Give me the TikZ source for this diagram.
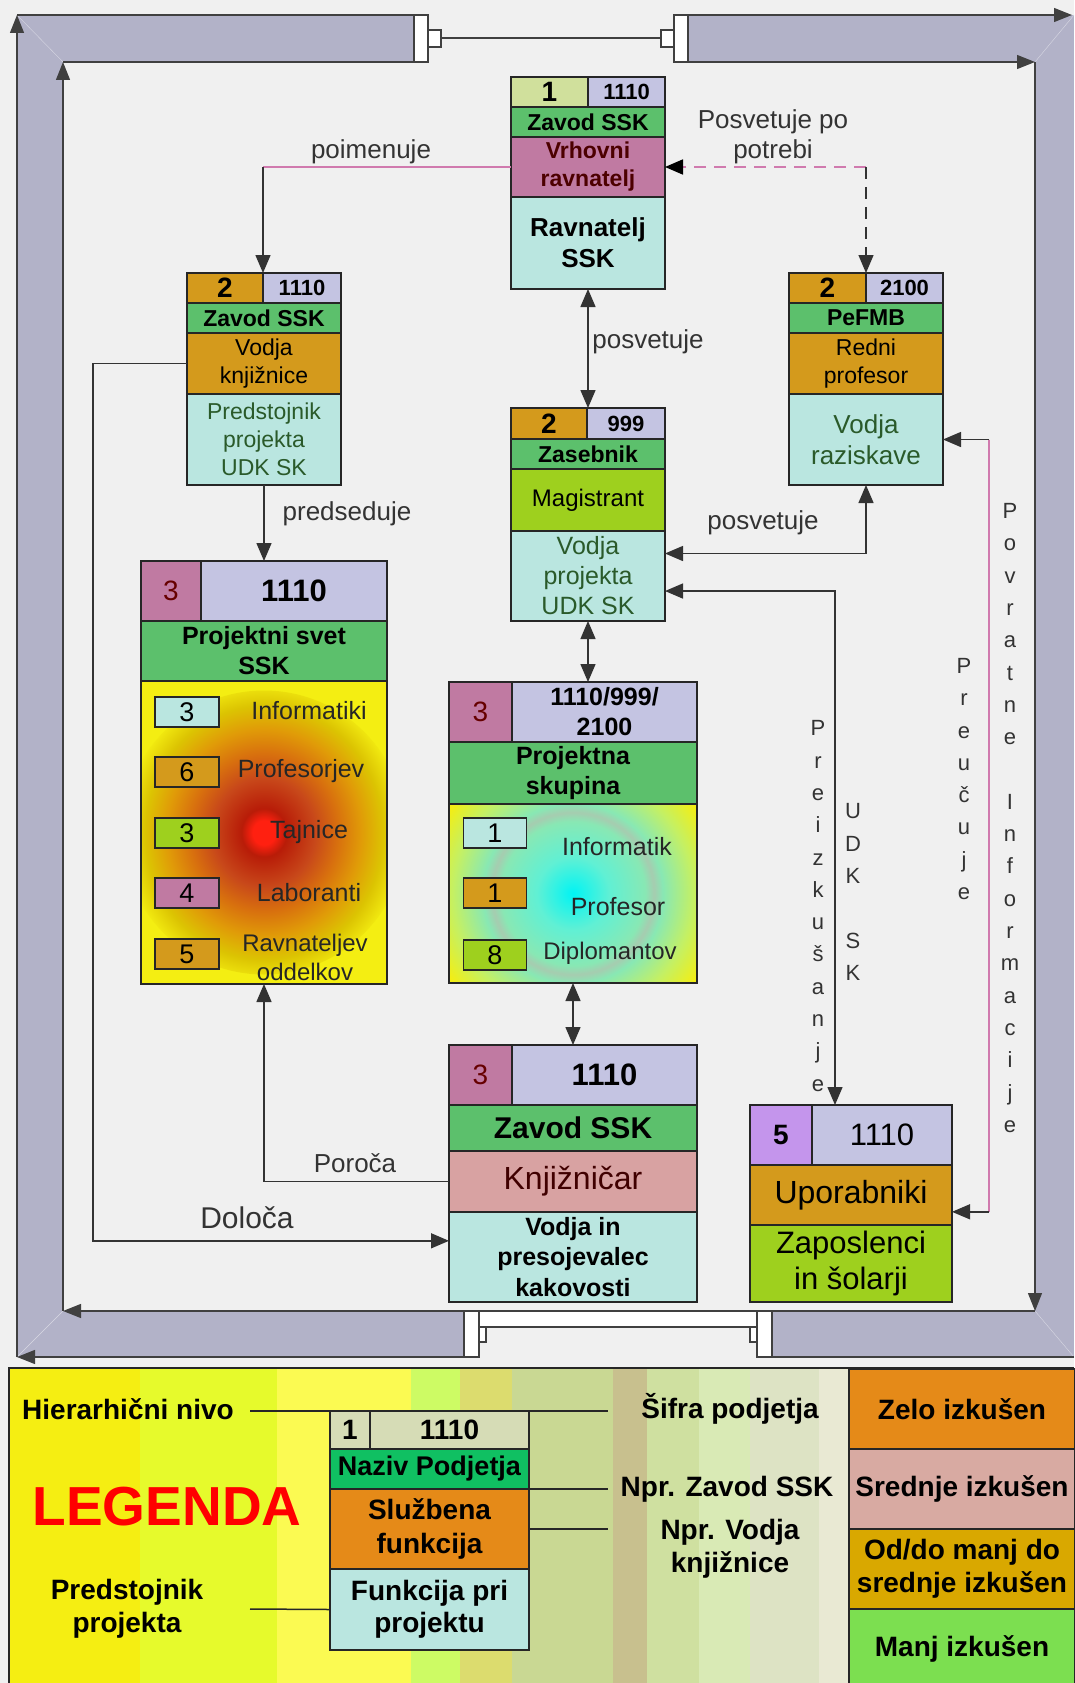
\documentclass[tikz,border=0pt]{standalone}
\usepackage{fontspec}
\setmainfont{Liberation Sans}
\usepackage{tikz}
\usetikzlibrary{arrows.meta,positioning,calc}
\newcommand{\fsz}[2]{\fontsize{#1}{#2}\selectfont}
\definecolor{bgray}{HTML}{F0F0F0}
\definecolor{band}{HTML}{B2B2C8}
\definecolor{lvlone}{HTML}{D0E09C}
\definecolor{lvltwo}{HTML}{D49A1C}
\definecolor{mauve}{HTML}{C07AA2}
\definecolor{lilac}{HTML}{C495EC}
\definecolor{codec}{HTML}{C4C4E2}
\definecolor{ttl}{HTML}{5CC06C}
\definecolor{lblue}{HTML}{BAE6E0}
\definecolor{lime}{HTML}{9ED01E}
\definecolor{rose}{HTML}{D8A2A2}
\definecolor{boxyel}{HTML}{F4EE12}
\definecolor{pinkln}{HTML}{D07AAE}
\definecolor{dkgreen}{HTML}{2A5A2A}
\definecolor{hotA}{HTML}{FF2010}
\definecolor{hotB}{HTML}{B81C08}
\definecolor{hotC}{HTML}{C8481A}
\definecolor{hotD}{HTML}{D8700E}
\definecolor{hotE}{HTML}{E09A08}
\definecolor{hotF}{HTML}{DCC402}
\definecolor{coldA}{HTML}{00F4F4}
\definecolor{coldB}{HTML}{60F0D4}
\definecolor{coldC}{HTML}{88E8B4}
\definecolor{coldD}{HTML}{A6CCB0}
\definecolor{coldE}{HTML}{C4F064}
\definecolor{legtop}{HTML}{D6DCB6}
\definecolor{legnaz}{HTML}{10C062}
\definecolor{legorg}{HTML}{E58A18}
\definecolor{legsred}{HTML}{D8AAA2}
\definecolor{legodo}{HTML}{D9A800}
\definecolor{legmanj}{HTML}{7CDF50}
\definecolor{stA}{HTML}{F5EE12}
\definecolor{stB}{HTML}{E6FA2C}
\definecolor{stC}{HTML}{FBFA52}
\definecolor{stD}{HTML}{CDFB64}
\definecolor{stE}{HTML}{DCDC6E}
\definecolor{stF}{HTML}{C9D893}
\definecolor{stG}{HTML}{C8C08E}
\definecolor{stH}{HTML}{CFE0A0}
\definecolor{stI}{HTML}{D9EAB5}
\definecolor{stJ}{HTML}{DDE3C4}
\definecolor{stK}{HTML}{E9E9D3}
\pgfdeclareradialshading{hotspot}{\pgfpoint{0bp}{0bp}}{color(0bp)=(hotA); color(2bp)=(hotA); color(4bp)=(hotB); color(9bp)=(hotC); color(13bp)=(hotD); color(17bp)=(hotE); color(21bp)=(hotF); color(25bp)=(boxyel); color(50bp)=(boxyel)}
\pgfdeclareradialshading{coldspot}{\pgfpoint{0bp}{0bp}}{color(0bp)=(coldA); color(6bp)=(coldB); color(12bp)=(coldC); color(13.5bp)=(coldD); color(15bp)=(coldC); color(20bp)=(coldE); color(25bp)=(boxyel); color(50bp)=(boxyel)}

\begin{document}
\begin{tikzpicture}[x=1pt, y=-1pt,
  cell/.style={draw=black!85, line width=1.3pt, inner sep=0pt, outer sep=0pt, align=center},
  item/.style={draw=black!85, line width=1.2pt, inner sep=0pt, minimum width=64, minimum height=30, font=\fsz{27}{30}},
  itemlbl/.style={inner sep=0pt, align=center, font=\fsz{25}{29}, text=black!85},
  lbl/.style={inner sep=0pt, align=center, font=\fsz{26}{30}, text=black!80},
  vtext/.style={inner sep=0pt, align=center, font=\fsz{22}{32.3}, text=black!80},
  arrow/.style={-{Triangle[length=18pt,width=15pt]}, line width=1.4pt, draw=black!80},
  dblarrow/.style={{Triangle[length=18pt,width=15pt]}-{Triangle[length=18pt,width=15pt]}, line width=1.4pt, draw=black!80},
  pinkline/.style={line width=1.8pt, draw=pinkln},
  frameline/.style={line width=1.3pt, draw=black!75},
  framearrow/.style={frameline, -{Triangle[length=18pt,width=14pt]}},
  capbox/.style={fill=white, draw=black!75, line width=1.2pt},
  legtext/.style={inner sep=0pt, align=center, font=\fsz{28}{33}\bfseries},
  legcell/.style={draw=black!85, line width=1.4pt, inner sep=0pt, outer sep=0pt, align=center, font=\fsz{28}{33}\bfseries},
  legline/.style={line width=1.5pt, draw=black!85}]
\useasboundingbox (0,0) rectangle (1074,1683);
\fill[bgray] (0,0) rectangle (1074,1683);

% frame
\fill[band] (17,15) rectangle (414,62);
\fill[band] (688,15) rectangle (1074,62);
\fill[band] (17,15) rectangle (63,1357);
\fill[band] (1035,15) rectangle (1074,1357);
\fill[band] (17,1311) rectangle (464,1357);
\fill[band] (772,1311) rectangle (1074,1357);
\draw[band!50!white] (17,15) -- (63,62) (1074,15) -- (1035,62) (17,1357) -- (63,1311) (1074,1357) -- (1035,1311);
\draw[capbox] (414,15) rectangle (428,62);
\draw[capbox] (674,15) rectangle (688,62);
\draw[capbox] (428,30) rectangle (441,47);
\draw[capbox] (661,30) rectangle (674,47);
\draw[frameline] (441,38) -- (661,38);
\draw[capbox] (464,1311) rectangle (479,1357);
\draw[capbox] (757,1311) rectangle (772,1357);
\draw[capbox] (479,1311) rectangle (757,1327);
\draw[capbox] (479,1327) rectangle (486,1342);
\draw[capbox] (750,1327) rectangle (757,1342);
\draw[framearrow] (17,1357) -- (17,15);
\draw[frameline] (17,15) -- (414,15);
\draw[framearrow] (688,15) -- (1072,15);
\draw[frameline] (1074,1357) -- (772,1357);
\draw[framearrow] (464,1357) -- (17,1357);
\draw[framearrow] (63,1311) -- (63,62);
\draw[frameline] (63,62) -- (414,62);
\draw[framearrow] (688,62) -- (1035,62);
\draw[framearrow] (1035,62) -- (1035,1311);
\draw[frameline] (1035,1311) -- (772,1311);
\draw[framearrow] (464,1311) -- (63,1311);

% Zavod SSK - vrhovni ravnatelj
\node[cell, fill=lvlone, minimum width=77, minimum height=30, anchor=north west, font=\fsz{28}{30}\bfseries] (Alvl) at (511,77) {1};
\node[cell, fill=codec, minimum width=77, minimum height=30, right=0pt of Alvl, font=\fsz{22}{26}\bfseries] (Acode) {1110};
\node[cell, fill=ttl, minimum width=154, minimum height=30, below=0pt of Alvl.south west, anchor=north west, font=\fsz{23}{26}\bfseries] (At) {Zavod SSK};
\node[cell, fill=mauve, minimum width=154, minimum height=60, below=0pt of At, font=\fsz{23}{28}\bfseries, text=red!30!black] (Af) {Vrhovni\\ravnatelj};
\node[cell, fill=lblue, minimum width=154, minimum height=92, below=0pt of Af, font=\fsz{26}{31}\bfseries] (Ap) {Ravnatelj\\SSK};

% Zavod SSK - vodja knjiznice
\node[cell, fill=lvltwo, minimum width=76, minimum height=30, anchor=north west, font=\fsz{28}{30}\bfseries] (Blvl) at (187,273) {2};
\node[cell, fill=codec, minimum width=78, minimum height=30, right=0pt of Blvl, font=\fsz{22}{26}\bfseries] (Bcode) {1110};
\node[cell, fill=ttl, minimum width=154, minimum height=30, below=0pt of Blvl.south west, anchor=north west, font=\fsz{23}{26}\bfseries] (Bt) {Zavod SSK};
\node[cell, fill=lvltwo, minimum width=154, minimum height=61, below=0pt of Bt, font=\fsz{23}{28}] (Bf) {Vodja\\knjižnice};
\node[cell, fill=lblue, minimum width=154, minimum height=91, below=0pt of Bf, font=\fsz{23}{28}, text=dkgreen] (Bp) {Predstojnik\\projekta\\UDK SK};

% PeFMB
\node[cell, fill=lvltwo, minimum width=77, minimum height=30, anchor=north west, font=\fsz{28}{30}\bfseries] (Clvl) at (789,273) {2};
\node[cell, fill=codec, minimum width=77, minimum height=30, right=0pt of Clvl, font=\fsz{22}{26}\bfseries] (Ccode) {2100};
\node[cell, fill=ttl, minimum width=154, minimum height=30, below=0pt of Clvl.south west, anchor=north west, font=\fsz{23}{26}\bfseries] (Ct) {PeFMB};
\node[cell, fill=lvltwo, minimum width=154, minimum height=61, below=0pt of Ct, font=\fsz{23}{28}] (Cf) {Redni\\profesor};
\node[cell, fill=lblue, minimum width=154, minimum height=91, below=0pt of Cf, font=\fsz{26}{31}, text=dkgreen] (Cp) {Vodja\\raziskave};

% Zasebnik
\node[cell, fill=lvltwo, minimum width=76, minimum height=31, anchor=north west, font=\fsz{28}{30}\bfseries] (Dlvl) at (511,408) {2};
\node[cell, fill=codec, minimum width=78, minimum height=31, right=0pt of Dlvl, font=\fsz{22}{26}\bfseries] (Dcode) {999};
\node[cell, fill=ttl, minimum width=154, minimum height=30, below=0pt of Dlvl.south west, anchor=north west, font=\fsz{23}{26}\bfseries] (Dt) {Zasebnik};
\node[cell, fill=lime, minimum width=154, minimum height=62, below=0pt of Dt, font=\fsz{24}{28}] (Df) {Magistrant};
\node[cell, fill=lblue, minimum width=154, minimum height=90, below=0pt of Df, font=\fsz{25}{30}, text=dkgreen] (Dp) {Vodja\\projekta\\UDK SK};

% Projektni svet
\node[cell, fill=mauve, minimum width=60, minimum height=60, anchor=north west, font=\fsz{28}{30}, text=red!40!black] (Plvl) at (141,561) {3};
\node[cell, fill=codec, minimum width=186, minimum height=60, right=0pt of Plvl, font=\fsz{31}{34}\bfseries] (Pcode) {1110};
\node[cell, fill=ttl, minimum width=246, minimum height=60, below=0pt of Plvl.south west, anchor=north west, font=\fsz{25}{30}\bfseries] (Pt) {Projektni svet\\SSK};
\node[cell, fill=boxyel, minimum width=246, minimum height=303, below=0pt of Pt,
  path picture={\shade[shading=hotspot] (path picture bounding box.center) circle (142);}] (Pp) {};
\node[item, fill=lblue] (pinf) at (187,712) {3};
\node[item, fill=lvltwo] (pprof) at (187,772) {6};
\node[item, fill=lime] (ptajn) at (187,833) {3};
\node[item, fill=mauve] (plab) at (187,893) {4};
\node[item, fill=lvltwo] (pravn) at (187,954) {5};
\node[itemlbl] (pinfl) at (309,711) {Informatiki};
\node[itemlbl] (pprofl) at (301,771) {Profesorjev};
\node[itemlbl] (ptajnl) at (309,832) {Tajnice};
\node[itemlbl] (plabl) at (309,893) {Laboranti};
\node[itemlbl, font=\fsz{24}{29}] (pravnl) at (305,957) {Ravnateljev\\oddelkov};

% Projektna skupina
\node[cell, fill=mauve, minimum width=63, minimum height=60, anchor=north west, font=\fsz{28}{30}, text=red!40!black] (Qlvl) at (449,682) {3};
\node[cell, fill=codec, minimum width=185, minimum height=60, right=0pt of Qlvl, font=\fsz{25}{30}\bfseries] (Qcode) {1110/999/\\2100};
\node[cell, fill=ttl, minimum width=248, minimum height=62, below=0pt of Qlvl.south west, anchor=north west, font=\fsz{25}{30}\bfseries] (Qt) {Projektna\\skupina};
\node[cell, fill=boxyel, minimum width=248, minimum height=179, below=0pt of Qt,
  path picture={\shade[shading=coldspot] (path picture bounding box.center) circle (150);}] (Qp) {};
\node[item, fill=lblue, minimum width=63] (qinf) at (495,833) {1};
\node[item, fill=lvltwo, minimum width=63] (qprof) at (495,893) {1};
\node[item, fill=lime, minimum width=63] (qdipl) at (495,955) {8};
\node[itemlbl] (qinfl) at (617,847) {Informatik};
\node[itemlbl] (qprofl) at (618,907) {Profesor};
\node[itemlbl, font=\fsz{24}{29}] (qdipll) at (610,953) {Diplomantov};

% Knjiznicar
\node[cell, fill=mauve, minimum width=63, minimum height=60, anchor=north west, font=\fsz{28}{30}, text=red!40!black] (Flvl) at (449,1045) {3};
\node[cell, fill=codec, minimum width=185, minimum height=60, right=0pt of Flvl, font=\fsz{31}{34}\bfseries] (Fcode) {1110};
\node[cell, fill=ttl, minimum width=248, minimum height=46, below=0pt of Flvl.south west, anchor=north west, font=\fsz{30}{34}\bfseries] (Ft) {Zavod SSK};
\node[cell, fill=rose, minimum width=248, minimum height=61, below=0pt of Ft, font=\fsz{32}{36}, text=red!25!black] (Fk) {Knjižničar};
\node[cell, fill=lblue, minimum width=248, minimum height=90, below=0pt of Fk, font=\fsz{25}{30.5}\bfseries] (Fp) {Vodja in\\presojevalec\\kakovosti};

% Uporabniki
\node[cell, fill=lilac, minimum width=62, minimum height=60, anchor=north west, font=\fsz{28}{30}\bfseries] (Elvl) at (750,1105) {5};
\node[cell, fill=codec, minimum width=140, minimum height=60, right=0pt of Elvl, font=\fsz{31}{34}] (Ecode) {1110};
\node[cell, fill=lvltwo, minimum width=202, minimum height=60, below=0pt of Elvl.south west, anchor=north west, font=\fsz{32}{36}] (Eu) {Uporabniki};
\node[cell, fill=lime, minimum width=202, minimum height=77, below=0pt of Eu, font=\fsz{31}{36}] (Ez) {Zaposlenci\\in šolarji};

% connectors
\coordinate (pm) at (Blvl.north east |- Af.west);
\draw[pinkline] (Af.west) -- (pm);
\draw[arrow] (pm) -- (Blvl.north east);
\node[lbl] (lpoim) at (371,152) {poimenuje};
\coordinate (pp) at (Clvl.north east |- Af.east);
\draw[pinkline, dash pattern=on 12pt off 8pt, -{Triangle[length=18pt,width=15pt,color=black]}] (pp) -- (Af.east);
\draw[arrow, dash pattern=on 12pt off 8pt] (pp) -- (Clvl.north east);
\node[lbl] (lpotr) at (773,137) {Posvetuje po\\potrebi};
\draw[dblarrow] (Ap.south) -- (Ap.south |- Dlvl.north);
\node[lbl] (lposv1) at (648,342) {posvetuje};
\coordinate (dc) at ($(Dp.north east)!0.25!(Dp.south east)$);
\draw[dblarrow] (dc) -| (Cp.south);
\node[lbl] (lposv2) at (763,523) {posvetuje};
\coordinate (de) at ($(Dp.north east)!0.667!(Dp.south east)$);
\coordinate (eu) at ([xshift=23pt]Ecode.north west);
\draw[dblarrow] (de) -| (eu);
\node[vtext] (lpreiz) at (818,906) {P\\r\\e\\i\\z\\k\\u\\š\\a\\n\\j\\e};
\node[vtext] (ludk) at (853,892) {U\\D\\K\\[32.3pt]S\\K};
\coordinate (pvT) at ($(Cp.east)+(46,0)$);
\coordinate (pvE) at ($(Eu.north east)!0.78!(Eu.south east)$);
\coordinate (pvB) at (pvT |- pvE);
\draw[pinkline] (pvT) -- (pvB);
\draw[arrow] (pvT) -- (Cp.east);
\draw[arrow] (pvB) -- (pvE);
\node[vtext] (lpreuc) at (964,779) {P\\r\\e\\u\\č\\u\\j\\e};
\node[vtext] (lpovr) at (1010,818) {P\\o\\v\\r\\a\\t\\n\\e\\[32.3pt]I\\n\\f\\o\\r\\m\\a\\c\\i\\j\\e};
\draw[arrow] (Bp.south) -- (Bp.south |- Plvl.north);
\node[lbl] (lpreds) at (347,514) {predseduje};
\draw[dblarrow] (Dp.south) -- (Dp.south |- Qlvl.north);
\draw[dblarrow] (Qp.south) -- (Qp.south |- Flvl.north);
\draw[arrow] (Fk.west) -| (Pp.south);
\node[lbl] (lporo) at (355,1163) {Poroča};
\coordinate (dl) at ($(Fp.north west)!0.32!(Fp.south west)$);
\draw[arrow] (Bf.west) -- ++(-94,0) |- (dl);
\node[lbl, font=\fsz{30}{34}] (ldolo) at (247,1218) {Določa};

% legend
\fill[stA] (9,1368) rectangle (140,1683);
\fill[stB] (140,1368) rectangle (277,1683);
\fill[stC] (277,1368) rectangle (411,1683);
\fill[stD] (411,1368) rectangle (460,1683);
\fill[stE] (460,1368) rectangle (512,1683);
\fill[stF] (512,1368) rectangle (613,1683);
\fill[stG] (613,1368) rectangle (647,1683);
\fill[stH] (647,1368) rectangle (699,1683);
\fill[stI] (699,1368) rectangle (750,1683);
\fill[stJ] (750,1368) rectangle (819,1683);
\fill[stK] (819,1368) rectangle (849,1683);
\draw[legline] (9,1683) -- (9,1368) -- (1074,1368);
\node[legcell, fill=legorg, minimum width=226, minimum height=80, anchor=north west] (lzelo) at (849,1369) {Zelo izkušen};
\node[legcell, fill=legsred, minimum width=226, minimum height=80, below=0pt of lzelo] (lsred) {Srednje izkušen};
\node[legcell, fill=legodo, minimum width=226, minimum height=80, below=0pt of lsred] (lodo) {Od/do manj do\\srednje izkušen};
\node[legcell, fill=legmanj, minimum width=226, minimum height=80, below=0pt of lodo] (lmanj) {Manj izkušen};
\node[legcell, fill=legtop, minimum width=40, minimum height=38, anchor=north west] (lone) at (330,1411) {1};
\node[legcell, fill=legtop, minimum width=159, minimum height=38, right=0pt of lone] (lcode) {1110};
\node[legcell, fill=legnaz, minimum width=199, minimum height=40, below=0pt of lone.south west, anchor=north west, font=\fsz{27}{30}\bfseries] (lnaziv) {Naziv Podjetja};
\node[legcell, fill=legorg, minimum width=199, minimum height=80, below=0pt of lnaziv, font=\fsz{28}{34}\bfseries] (lsluz) {Službena\\funkcija};
\node[legcell, fill=lblue, minimum width=199, minimum height=81, below=0pt of lsluz, font=\fsz{28}{32}\bfseries] (lfunk) {Funkcija pri\\projektu};
\node[inner sep=0pt, font=\fsz{55}{60}\bfseries, text=red] (lleg) at (167,1507) {LEGENDA};
\node[legtext] (lhier) at (128,1409) {Hierarhični nivo};
\node[legtext] (lsifra) at (730,1409) {Šifra podjetja};
\node[legtext] (lnzav) at (727,1489) {Npr. Zavod SSK};
\node[legtext] (lnvod) at (730,1549) {Npr. Vodja\\knjižnice};
\node[legtext] (lpred) at (127,1609) {Predstojnik\\projekta};
\coordinate (lh) at (250,1411);
\coordinate (ls) at (608,1411);
\coordinate (lz) at (608,1489);
\coordinate (lv) at (608,1529);
\coordinate (lp) at (250,1609);
\draw[legline] (lh) -- (lone.north west);
\draw[legline] (lcode.north east) -- (ls);
\draw[legline] (lnaziv.south east) -- (lz);
\draw[legline] (lsluz.east) -- (lv);
\draw[legline] (lp) -- (lfunk.west);
\end{tikzpicture}
\end{document}
